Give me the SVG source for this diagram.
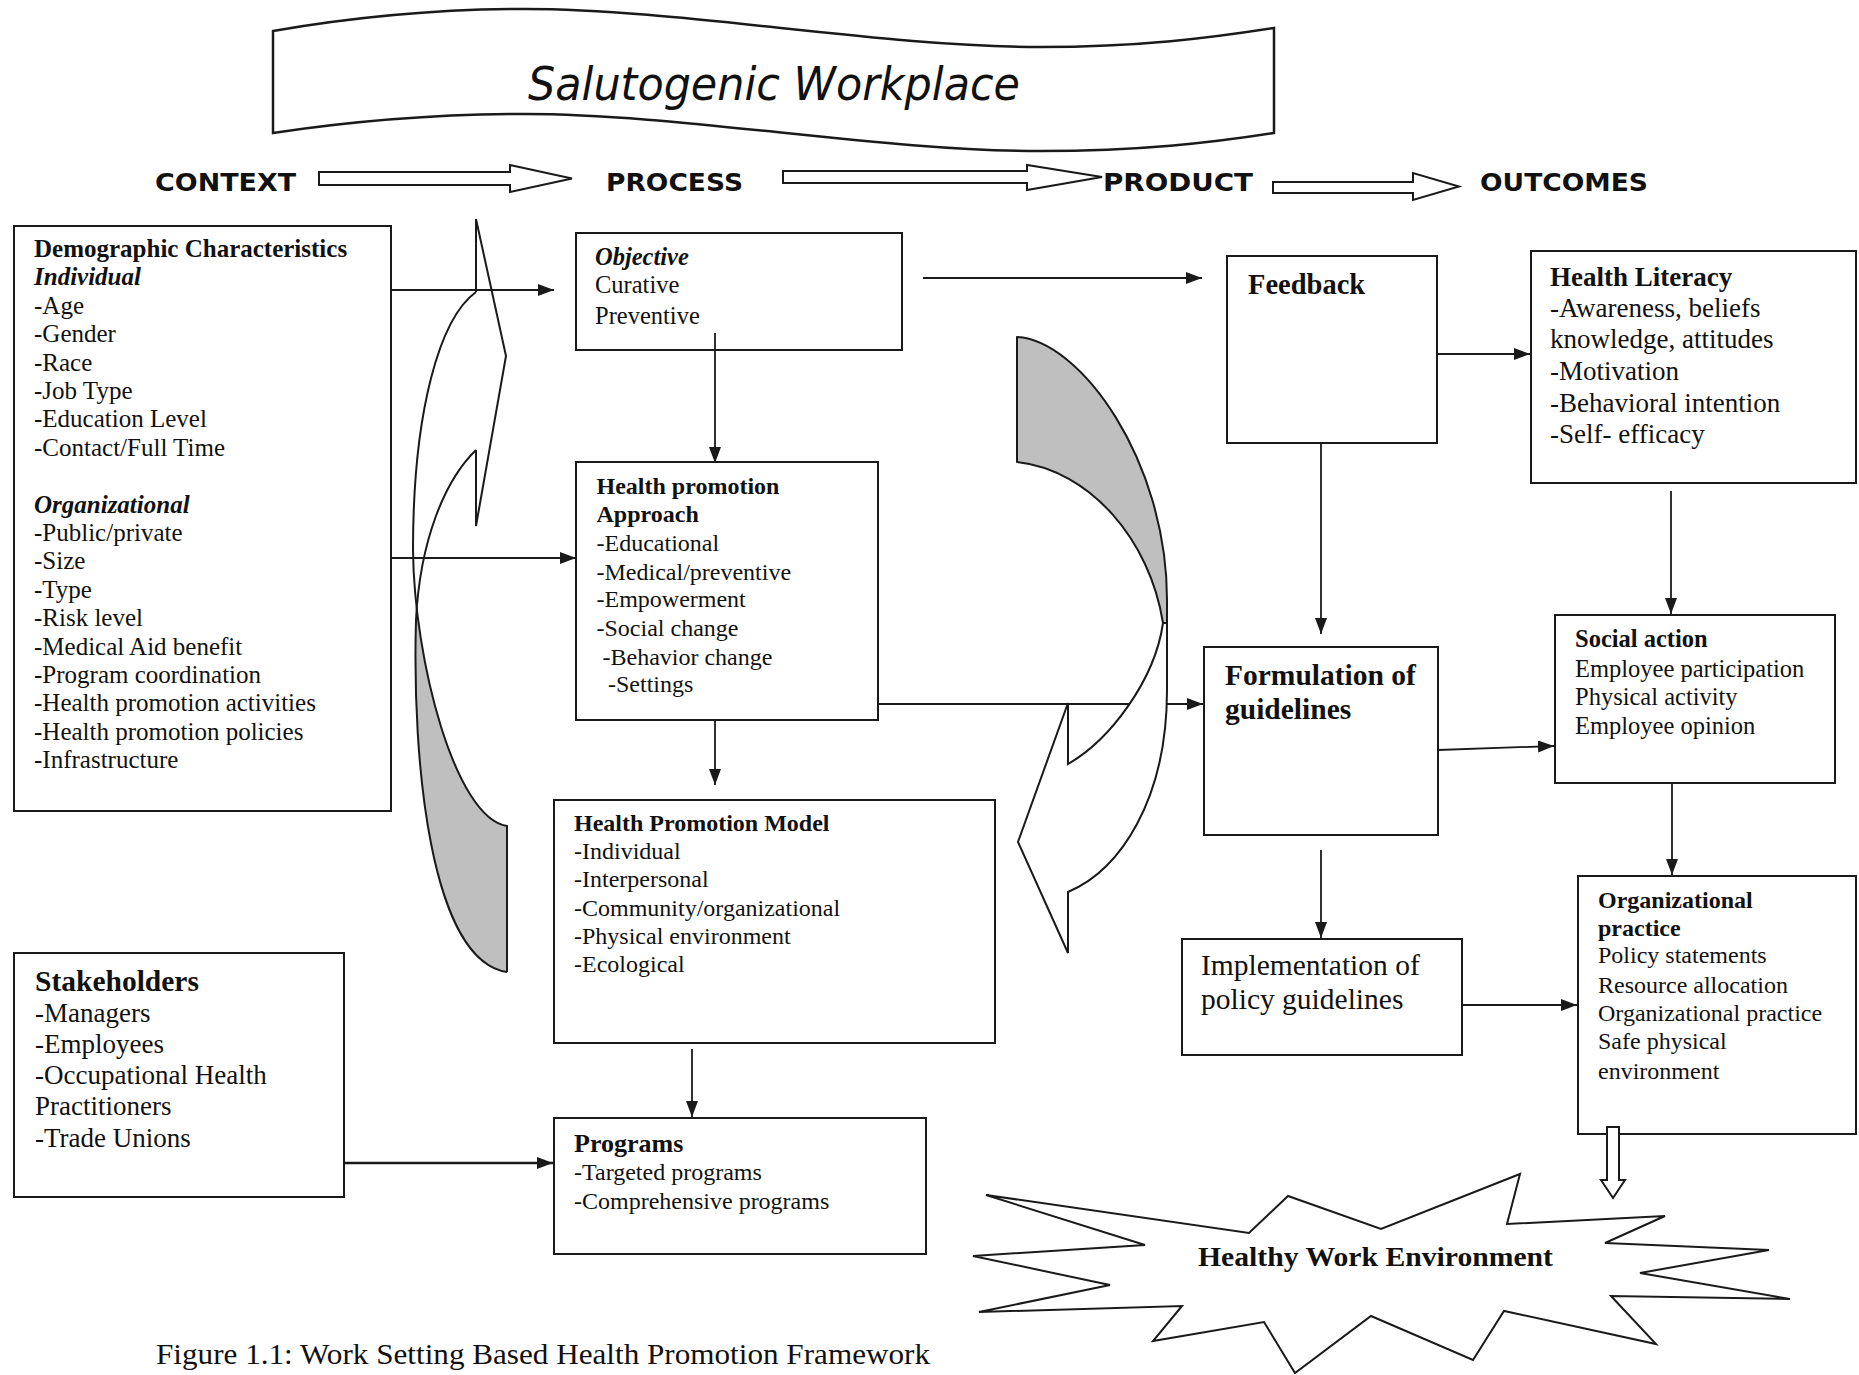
<svg xmlns="http://www.w3.org/2000/svg" width="1859" height="1375" viewBox="0 0 1859 1375">
<style>
.bg{fill:#ffffff}
.box{fill:#ffffff;stroke:#1a1a1a;stroke-width:2}
.t{font-family:'Liberation Serif','Times New Roman',serif;fill:#111111}
.b{font-weight:bold}
.i{font-style:italic}
.h{font-family:'DejaVu Sans','Liberation Sans',sans-serif;font-weight:bold;fill:#111111}
.ln{fill:none;stroke:#1a1a1a;stroke-width:1.8}
.blk{fill:#ffffff;stroke:#1a1a1a;stroke-width:2;stroke-linejoin:miter}
.edge{fill:none;stroke:#1a1a1a;stroke-width:2}
</style>
<defs>
<marker id="ah" markerUnits="userSpaceOnUse" markerWidth="16" markerHeight="12" refX="16" refY="6" orient="auto">
<path d="M0,0 L16,6 L0,12 Z" fill="#1a1a1a"/>
</marker>
<clipPath id="upperL"><rect x="380" y="200" width="160" height="410"/></clipPath>
</defs>
<rect class="bg" x="0" y="0" width="1859" height="1375"/>

<g id="banner">
<path d="M273,31 C360,16 440,9 525,9 C680,9 880,47 1040,47 C1140,47 1210,38 1274,28 L1274,133 C1210,143 1140,151 1040,151 C880,151 680,114 525,114 C440,114 360,120 273,133 Z" fill="#ffffff" stroke="#1a1a1a" stroke-width="2.5"/>
<text x="528" y="100" font-family="'DejaVu Sans','Liberation Sans',sans-serif" fill="#111111" font-size="46" font-style="italic" textLength="492" lengthAdjust="spacingAndGlyphs">Salutogenic Workplace</text>
</g>

<g id="stages">
<text class="h" x="155" y="191" font-size="24" textLength="141" lengthAdjust="spacingAndGlyphs">CONTEXT</text>
<text class="h" x="606" y="191" font-size="24" textLength="137" lengthAdjust="spacingAndGlyphs">PROCESS</text>
<text class="h" x="1103" y="191" font-size="24" textLength="150" lengthAdjust="spacingAndGlyphs">PRODUCT</text>
<text class="h" x="1480" y="191" font-size="24" textLength="168" lengthAdjust="spacingAndGlyphs">OUTCOMES</text>
<polygon class="blk" points="319,172 510,172 510,165 572,178.5 510,192 510,185 319,185"/>
<polygon class="blk" points="783,171 1027,171 1027,165 1102,177 1027,190 1027,183 783,183"/>
<polygon class="blk" points="1273,182 1413,182 1413,173 1459,186.5 1413,200 1413,193 1273,193"/>
</g>

<g id="curved-arrow-left">
<path d="M476,292 C440,318 413,410 413,550 C414,660 455,818 507,826 L507,972 C430,960 412,760 416,620 C420,540 445,480 476,450 Z" fill="#bfbfbf"/>
<path d="M476,292 C440,318 413,410 413,550 C414,660 455,818 507,826 L507,972 C430,960 412,760 416,620 C420,540 445,480 476,450 Z" fill="#ffffff" clip-path="url(#upperL)"/>
<polygon points="476,219 506,356 476,526" fill="#ffffff"/>
<path class="edge" d="M476,292 C440,318 413,410 413,550 C414,660 455,818 507,826 L507,972"/>
<path class="edge" d="M476,450 C445,480 420,540 416,620 C412,760 430,960 507,972"/>
<path class="edge" d="M476,292 L476,219 L506,356 L476,526 L476,450"/>
</g>

<g id="demographic">
<rect class="box" x="14" y="226" width="377" height="585"/>
<g class="t" font-size="25">
<text class="t b" x="34" y="257">Demographic Characteristics</text>
<text class="t b i" x="34" y="285.4">Individual</text>
<text x="34" y="313.8">-Age</text>
<text x="34" y="342.2">-Gender</text>
<text x="34" y="370.6">-Race</text>
<text x="34" y="399">-Job Type</text>
<text x="34" y="427.4">-Education Level</text>
<text x="34" y="455.8">-Contact/Full Time</text>
<text class="t b i" x="34" y="512.6">Organizational</text>
<text x="34" y="541">-Public/private</text>
<text x="34" y="569.4">-Size</text>
<text x="34" y="597.8">-Type</text>
<text x="34" y="626.2">-Risk level</text>
<text x="34" y="654.6">-Medical Aid benefit</text>
<text x="34" y="683">-Program coordination</text>
<text x="34" y="711.4">-Health promotion activities</text>
<text x="34" y="739.8">-Health promotion policies</text>
<text x="34" y="768.2">-Infrastructure</text>
</g>
</g>

<g id="objective">
<rect class="box" x="576" y="233" width="326" height="117"/>
<g class="t" font-size="24.5">
<text class="t b i" x="595" y="265">Objective</text>
<text x="595" y="293">Curative</text>
<text x="595" y="324">Preventive</text>
</g>
</g>

<g id="hp-approach">
<rect class="box" x="576" y="462" width="302" height="258"/>
<g class="t" font-size="24">
<text class="t b" x="596.5" y="494">Health promotion</text>
<text class="t b" x="596.5" y="522">Approach</text>
<text x="596.5" y="551">-Educational</text>
<text x="596.5" y="580">-Medical/preventive</text>
<text x="596.5" y="607">-Empowerment</text>
<text x="596.5" y="636">-Social change</text>
<text x="602.5" y="665">-Behavior change</text>
<text x="608" y="692">-Settings</text>
</g>
</g>

<g id="hp-model">
<rect class="box" x="554" y="800" width="441" height="243"/>
<g class="t" font-size="24">
<text class="t b" x="574" y="831">Health Promotion Model</text>
<text x="574" y="859">-Individual</text>
<text x="574" y="887">-Interpersonal</text>
<text x="574" y="916">-Community/organizational</text>
<text x="574" y="944">-Physical environment</text>
<text x="574" y="972">-Ecological</text>
</g>
</g>

<g id="programs">
<rect class="box" x="554" y="1118" width="372" height="136"/>
<g class="t" font-size="24">
<text class="t b" x="574" y="1152" font-size="26">Programs</text>
<text x="574" y="1180">-Targeted programs</text>
<text x="574" y="1209">-Comprehensive programs</text>
</g>
</g>

<g id="stakeholders">
<rect class="box" x="14" y="953" width="330" height="244"/>
<g class="t" font-size="27">
<text class="t b" x="35" y="991" font-size="29.5">Stakeholders</text>
<text x="35" y="1022">-Managers</text>
<text x="35" y="1053">-Employees</text>
<text x="35" y="1084">-Occupational Health</text>
<text x="35" y="1115">Practitioners</text>
<text x="35" y="1146.5">-Trade Unions</text>
</g>
</g>

<g id="feedback">
<rect class="box" x="1227" y="256" width="210" height="187"/>
<text class="t b" x="1248" y="294" font-size="28.5">Feedback</text>
</g>

<g id="health-literacy">
<rect class="box" x="1531" y="251" width="325" height="232"/>
<g class="t" font-size="27">
<text class="t b" x="1550" y="286">Health Literacy</text>
<text x="1550" y="317">-Awareness, beliefs</text>
<text x="1550" y="348">knowledge, attitudes</text>
<text x="1550" y="380">-Motivation</text>
<text x="1550" y="411.5">-Behavioral intention</text>
<text x="1550" y="442.5">-Self- efficacy</text>
</g>
</g>

<g id="formulation">
<rect class="box" x="1204" y="647" width="234" height="188"/>
<g class="t b" font-size="29.5">
<text class="t b" x="1225" y="684.5">Formulation of</text>
<text class="t b" x="1225" y="719">guidelines</text>
</g>
</g>

<g id="social-action">
<rect class="box" x="1555" y="615" width="280" height="168"/>
<g class="t" font-size="24.5">
<text class="t b" x="1575" y="647">Social action</text>
<text x="1575" y="676.5">Employee participation</text>
<text x="1575" y="704.5">Physical activity</text>
<text x="1575" y="734">Employee opinion</text>
</g>
</g>

<g id="implementation">
<rect class="box" x="1182" y="939" width="280" height="116"/>
<g class="t" font-size="29.5">
<text x="1201" y="975">Implementation of</text>
<text x="1201" y="1009">policy guidelines</text>
</g>
</g>

<g id="org-practice">
<rect class="box" x="1578" y="876" width="278" height="258"/>
<g class="t" font-size="24">
<text class="t b" x="1598" y="908">Organizational</text>
<text class="t b" x="1598" y="936">practice</text>
<text x="1598" y="963">Policy statements</text>
<text x="1598" y="992.5">Resource allocation</text>
<text x="1598" y="1020.5">Organizational practice</text>
<text x="1598" y="1049">Safe physical</text>
<text x="1598" y="1079">environment</text>
</g>
</g>

<g id="connectors">
<line class="ln" x1="391" y1="290" x2="554" y2="290" marker-end="url(#ah)"/>
<line class="ln" x1="391" y1="558" x2="576" y2="558" marker-end="url(#ah)"/>
<line class="ln" x1="715" y1="333" x2="715" y2="463" marker-end="url(#ah)"/>
<line class="ln" x1="923" y1="278" x2="1202" y2="278" marker-end="url(#ah)"/>
<line class="ln" x1="878" y1="704" x2="1203" y2="704" marker-end="url(#ah)"/>
<line class="ln" x1="715" y1="721" x2="715" y2="785" marker-end="url(#ah)"/>
<line class="ln" x1="692" y1="1049" x2="692" y2="1117" marker-end="url(#ah)"/>
<line class="ln" x1="344" y1="1163" x2="553" y2="1163" marker-end="url(#ah)" style="stroke-width:2.6"/>
<line class="ln" x1="1437" y1="354" x2="1530" y2="354" marker-end="url(#ah)"/>
<line class="ln" x1="1321" y1="443" x2="1321" y2="634" marker-end="url(#ah)"/>
<line class="ln" x1="1671" y1="491" x2="1671" y2="614" marker-end="url(#ah)"/>
<line class="ln" x1="1438" y1="750" x2="1554" y2="746" marker-end="url(#ah)"/>
<line class="ln" x1="1672" y1="783" x2="1672" y2="875" marker-end="url(#ah)"/>
<line class="ln" x1="1321" y1="850" x2="1321" y2="938" marker-end="url(#ah)"/>
<line class="ln" x1="1462" y1="1005" x2="1577" y2="1005" marker-end="url(#ah)"/>
<polygon class="blk" points="1607,1127 1619,1127 1619,1180 1625,1180 1613,1198 1601,1180 1607,1180"/>
</g>

<g id="curved-arrow-right">
<path d="M1017,337 C1080,340 1167,460 1167,600 L1167,623 L1163,623 C1150,540 1090,470 1017,462 Z" fill="#bfbfbf" stroke="#1a1a1a" stroke-width="2" stroke-linejoin="round"/>
<path d="M1163,623 C1155,680 1110,740 1068,764 L1068,703 L1018,842 L1068,953 L1068,892 C1120,870 1167,800 1167,690 L1167,623 Z" fill="#ffffff" stroke="#1a1a1a" stroke-width="2" stroke-linejoin="miter"/>
</g>

<g id="healthy-work-environment">
<polygon points="986,1195 1249,1233 1288,1196 1381,1229 1520,1174 1507,1224 1665,1216 1605,1243 1769,1250 1640,1273 1790,1299 1611,1296 1656,1344 1504,1311 1473,1360 1371,1316 1295,1373 1264,1322 1153,1341 1182,1306 979,1312 1110,1285 973,1256 1145,1245" fill="#ffffff" stroke="#1a1a1a" stroke-width="2"/>
<text class="t b" x="1198" y="1266" font-size="27" textLength="355" lengthAdjust="spacingAndGlyphs">Healthy Work Environment</text>
</g>

<text class="t" x="156" y="1364" font-size="29.5" textLength="774" lengthAdjust="spacingAndGlyphs">Figure 1.1: Work Setting Based Health Promotion Framework</text>
</svg>
